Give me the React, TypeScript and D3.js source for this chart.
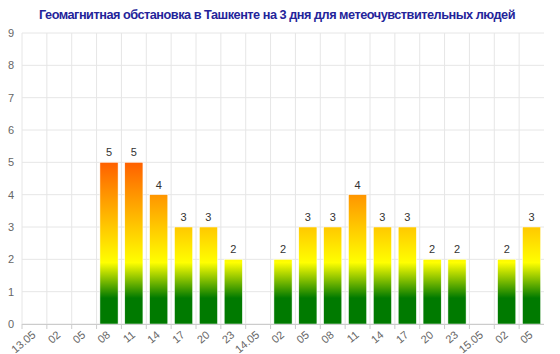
import React from "react";
import * as d3 from "d3";

const width = 560;
const height = 354;
const margin = { top: 33, right: 16, bottom: 30, left: 22 };

const title = "Геомагнитная обстановка в Ташкенте на 3 дня для метеочувствительных людей";

// time slots, 3 hours apart
const categories = [
  "13.05", "02", "05", "08", "11", "14", "17", "20", "23",
  "14.05", "02", "05", "08", "11", "14", "17", "20", "23",
  "15.05", "02", "05"
];

// Kp index, null = no data
const kpValues: (number | null)[] = [
  null, null, null, 5, 5, 4, 3, 3, 2,
  null, 2, 3, 3, 4, 3, 3, 2, 2,
  null, 2, 3
];

const yTicks = [0, 1, 2, 3, 4, 5, 6, 7, 8, 9];

// gradient colour stops, by Kp value
const gradientStops = [
  { kp: 0, color: "#007a00" },
  { kp: 0.8, color: "#007a00" },
  { kp: 1.9, color: "#ffff00" },
  { kp: 3, color: "#ffc800" },
  { kp: 4, color: "#ff9500" },
  { kp: 5, color: "#ff6000" },
  { kp: 9, color: "#ff0000" }
];

export default function App() {
  const innerW = width - margin.left - margin.right;
  const innerH = height - margin.top - margin.bottom;

  const x = d3
    .scaleBand<number>()
    .domain(categories.map((_, i) => i))
    .range([margin.left, margin.left + innerW])
    .paddingInner(0.27)
    .paddingOuter(0.135);

  const xCell = d3
    .scaleBand<number>()
    .domain(categories.map((_, i) => i))
    .range([margin.left, margin.left + innerW]);

  const y = d3
    .scaleLinear()
    .domain([0, 9])
    .range([margin.top + innerH, margin.top]);

  return (
    <svg width={width} height={height} style={{ position: "absolute", left: 0, top: 0, fontFamily: "'Liberation Sans', Arial, sans-serif" }}>
      <defs>
        <linearGradient id="kpGrad" gradientUnits="userSpaceOnUse" x1={0} x2={0} y1={y(0)} y2={y(9)}>
          {gradientStops.map((s, i) => (
            <stop key={i} offset={s.kp / 9} stopColor={s.color} />
          ))}
        </linearGradient>
      </defs>
      <rect width={width} height={height} fill="#fff" />
      <text
        x={277}
        y={19}
        textAnchor="middle"
        fontSize={13}
        fontWeight="bold"
        fill="#24249a"
        letterSpacing={-0.5}
        textLength={476}
        lengthAdjust="spacingAndGlyphs"
      >
        {title}
      </text>

      {/* horizontal grid */}
      {yTicks.map(t => (
        <g key={t}>
          <line x1={margin.left} x2={margin.left + innerW} y1={y(t)} y2={y(t)} stroke="#e6e6e6" />
          <text x={14} y={y(t) + 4} textAnchor="end" fontSize={11} fill="#666">
            {t}
          </text>
        </g>
      ))}

      {/* vertical grid at category boundaries */}
      {categories.map((_, i) => (
        <line key={i} x1={xCell(i)!} x2={xCell(i)!} y1={y(9)} y2={y(0)} stroke="#e6e6e6" />
      ))}

      {/* bars */}
      {kpValues.map((v, i) =>
        v == null ? null : (
          <g key={i}>
            <rect
              x={x(i)!}
              y={y(v)}
              width={x.bandwidth()}
              height={y(0) - y(v)}
              fill="url(#kpGrad)"
              stroke="#fff"
              strokeWidth={0.5}
            />
            <text x={x(i)! + x.bandwidth() / 2} y={y(v) - 6} textAnchor="middle" fontSize={11} fill="#333">
              {v}
            </text>
          </g>
        )
      )}

      {/* x axis */}
      <line x1={margin.left} x2={margin.left + innerW} y1={y(0) + 0.5} y2={y(0) + 0.5} stroke="#ccc" />
      {categories.map((_, i) => (
        <line key={i} x1={xCell(i)!} x2={xCell(i)!} y1={y(0)} y2={y(0) + 5} stroke="#ccc" />
      ))}
      {categories.map((c, i) => {
        const cx = xCell(i)! + xCell.bandwidth() / 2 + 2;
        const cy = y(0) + 12;
        return (
          <text
            key={i}
            x={cx}
            y={cy}
            textAnchor="end"
            fontSize={11}
            fill="#666"
            transform={`rotate(-40, ${cx}, ${cy})`}
          >
            {c}
          </text>
        );
      })}
    </svg>
  );
}
